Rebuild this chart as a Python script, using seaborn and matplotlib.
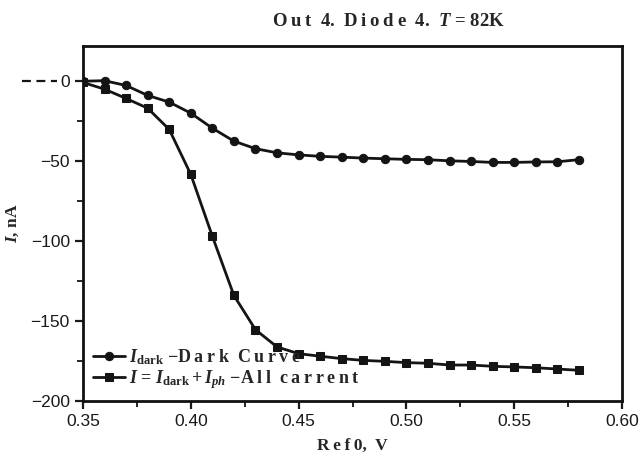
import numpy as np
import pandas as pd
import matplotlib
matplotlib.use("Agg")
import matplotlib.pyplot as plt
from matplotlib.lines import Line2D
from matplotlib.ticker import MultipleLocator
import seaborn as sns

# Data (Ref0 in V, current in nA)
ref0 = [0.35, 0.36, 0.37, 0.38, 0.39, 0.40, 0.41, 0.42, 0.43, 0.44, 0.45, 0.46,
        0.47, 0.48, 0.49, 0.50, 0.51, 0.52, 0.53, 0.54, 0.55, 0.56, 0.57, 0.58]
i_dark = [0.0, 0.3, -2.7, -8.9, -13.1, -20.0, -29.4, -37.5, -42.2, -44.8, -46.1, -47.0,
          -47.5, -48.1, -48.5, -48.9, -49.1, -49.8, -50.2, -50.8, -50.8, -50.5, -50.4, -49.1]
i_all = [-0.8, -5.0, -10.8, -16.9, -30.2, -58.3, -97.0, -134.0, -155.4, -166.2, -170.4, -172.0,
         -173.5, -174.6, -175.2, -176.0, -176.4, -177.5, -177.5, -178.3, -178.7, -179.2, -180.0, -180.8]

T = "\u2009"  # thin space, used for the letter-spaced serif captions
label_dark = r"$I_{\mathrm{dark}}$ $-$" + T.join("Dark") + "  " + T.join("Curve")
label_all = r"$I$ = $I_{\mathrm{dark}}+I_{ph}$ $-$" + T.join("All") + "  " + T.join("carrent")
title = T.join("Out") + "  4.  " + T.join("Diode") + "  4.  $T$ = 82K"

df = pd.DataFrame({"Ref0": ref0, "dark": i_dark, "all": i_all})

sns.set_theme(style="ticks")
plt.rcParams.update({
    "font.family": ["Liberation Sans", "DejaVu Sans"],
    "mathtext.fontset": "custom",
    "mathtext.rm": "Liberation Serif:bold",
    "mathtext.it": "Liberation Serif:italic:bold",
    "mathtext.bf": "Liberation Serif:bold",
    "axes.linewidth": 2.0,
    "xtick.major.width": 1.6,
    "ytick.major.width": 1.6,
    "xtick.minor.width": 1.4,
    "ytick.minor.width": 1.4,
    "xtick.major.size": 6,
    "ytick.major.size": 6,
    "xtick.minor.size": 4,
    "ytick.minor.size": 4,
    "xtick.direction": "out",
    "ytick.direction": "out",
})

fig = plt.figure(figsize=(6.42, 4.58), dpi=100)
ax = fig.add_axes([83 / 642, 1 - 401 / 458, (622 - 83) / 642, (401 - 46) / 458])

line_color = "#141414"
sns.lineplot(data=df, x="Ref0", y="dark", ax=ax, color=line_color, lw=2.0,
             marker="o", markersize=6, markeredgecolor=line_color, label=label_dark)
sns.lineplot(data=df, x="Ref0", y="all", ax=ax, color=line_color, lw=2.0,
             marker="s", markersize=6, markeredgecolor=line_color, label=label_all)

ax.set_xlim(0.35, 0.60)
ax.set_ylim(-200, 22)
ax.xaxis.set_minor_locator(MultipleLocator(0.025))
ax.yaxis.set_minor_locator(MultipleLocator(25))
ax.set_xticks(np.arange(0.35, 0.601, 0.05))
ax.set_xticklabels(["0.35", "0.40", "0.45", "0.50", "0.55", "0.60"])
ax.set_yticks([-200, -150, -100, -50, 0])
ax.set_yticklabels(["\u2212200", "\u2212150", "\u2212100", "\u221250", "0"])
ax.tick_params(labelsize=12.5, colors="#1a1a1a")
for side in ["top", "right", "left", "bottom"]:
    ax.spines[side].set_visible(True)
    ax.spines[side].set_color("#111111")

serif_bold = dict(family="Liberation Serif", fontweight="bold", fontsize=12.5)
ax.set_xlabel(T.join("Ref0") + ",  V", labelpad=6, **serif_bold)
ax.set_ylabel(r"$I$, nA", labelpad=4, **serif_bold)
ax.yaxis.set_label_coords(-0.115, 0.5)

fig.text(388 / 642, 1 - 22 / 458, title, ha="center", va="center",
         family="Liberation Serif", fontweight="bold", fontsize=13.5)

# dashed stroke left of the 0 label, as in the scan
fig.add_artist(Line2D([22 / 642, 57 / 642], [1 - 81 / 458, 1 - 81 / 458],
                      color=line_color, lw=1.6, ls=(0, (4, 2.5))))

leg = ax.legend(loc="lower left", bbox_to_anchor=(0.0, 0.0), frameon=False,
                handlelength=1.8, handletextpad=0.2, labelspacing=0.05,
                borderaxespad=0.15,
                prop={"family": "Liberation Serif", "weight": "bold", "size": 13})

fig.savefig("out.png", dpi=100)
